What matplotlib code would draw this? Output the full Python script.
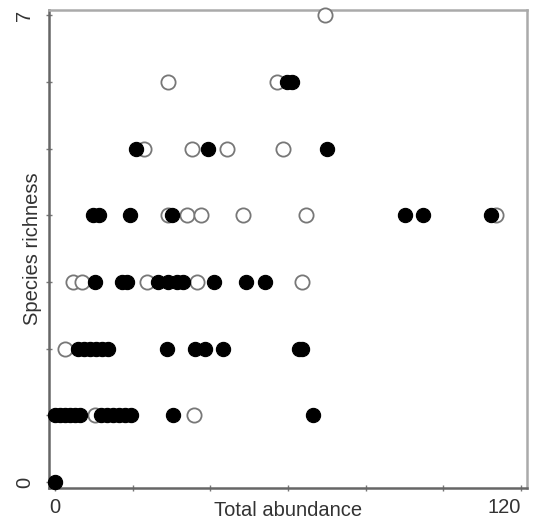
import matplotlib
matplotlib.use('Agg')
import matplotlib.pyplot as plt

# open circles (abundance, richness)
open_abund = [69.6,
              29.2, 57.1,
              22.8, 35.4, 44.4, 58.7,
              29.1, 33.9, 37.5, 48.5, 64.7, 113.5,
              4.7, 6.9, 23.8, 36.5, 63.6,
              2.6,
              10.3, 35.8]
open_rich = [7,
             6, 6,
             5, 5, 5, 5,
             4, 4, 4, 4, 4, 4,
             3, 3, 3, 3, 3,
             2,
             1, 1]

# filled circles (abundance, richness)
filled_abund = [59.7, 61.0,
                20.8, 39.5, 70.0,
                9.8, 11.3, 19.3, 30.0, 90.2, 94.8, 112.3,
                10.3, 17.3, 18.6, 26.6, 29.1, 31.5, 33.0, 41.0, 49.2, 54.1,
                5.9, 7.5, 9.0, 10.6, 12.1, 13.7, 28.8, 36.0, 38.7, 43.2, 62.9, 63.7,
                0.0, 1.3, 2.6, 3.9, 5.2, 6.4, 11.9, 13.4, 14.9, 16.5, 18.0, 19.6, 30.5, 66.4,
                0.0]
filled_rich = [6, 6,
               5, 5, 5,
               4, 4, 4, 4, 4, 4, 4,
               3, 3, 3, 3, 3, 3, 3, 3, 3, 3,
               2, 2, 2, 2, 2, 2, 2, 2, 2, 2, 2, 2,
               1, 1, 1, 1, 1, 1, 1, 1, 1, 1, 1, 1, 1, 1,
               0]

plt.rcParams['font.family'] = ['Liberation Sans', 'DejaVu Sans']

fig = plt.figure(figsize=(5.33, 5.22), dpi=100)
ax = fig.add_axes([0.092, 0.065, 0.897, 0.916])

ax.scatter(open_abund, open_rich, s=105, facecolor='white', edgecolor='#777777',
           linewidth=1.3, zorder=3, clip_on=False)
ax.scatter(filled_abund, filled_rich, s=105, facecolor='black', edgecolor='black',
           linewidth=0.8, zorder=4, clip_on=False)

ax.set_xlim(-1.55, 121.6)
ax.set_ylim(-0.09, 7.08)

ax.set_xticks([0, 20, 40, 60, 80, 100, 120])
ax.set_xticklabels(['0', '', '', '', '', '', '120'])
ax.set_yticks(range(8))
ax.set_yticklabels(['0', '', '', '', '', '', '', '7'], rotation=90, va='center')
ax.get_xticklabels()[-1].set_ha('right')
ax.tick_params(axis='both', direction='inout', length=5, width=1, color='#777777',
               labelsize=14.5, labelcolor='#333333')
ax.tick_params(axis='x', pad=5)
ax.tick_params(axis='y', pad=8)

ax.set_xlabel('Total abundance', fontsize=14.5, color='#333333', labelpad=-12)
ax.set_ylabel('Species richness', fontsize=14.5, color='#333333', labelpad=-19)

for s in ['left', 'bottom']:
    ax.spines[s].set_color('#666666')
    ax.spines[s].set_linewidth(1.8)
for s in ['top', 'right']:
    ax.spines[s].set_color('#aaaaaa')
    ax.spines[s].set_linewidth(1.8)

fig.savefig('out.png', dpi=100)
